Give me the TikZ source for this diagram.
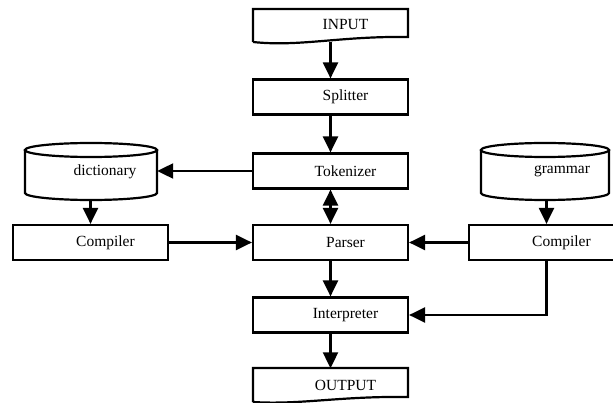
\documentclass[tikz,border=0pt]{standalone}
\usepackage{fontspec}
\setmainfont{Liberation Serif}
\usetikzlibrary{arrows.meta}
\begin{document}
\begin{tikzpicture}[x=1pt,y=-1pt,
  every node/.style={font=\fontsize{15.5}{18}\selectfont},
  box/.style={draw, line width=2.2pt, minimum width=155pt, minimum height=35pt, inner sep=0pt},
  plain/.style={minimum width=155pt, minimum height=33pt, inner sep=0pt},
  holder/.style={minimum width=132pt, minimum height=57pt, inner sep=0pt},
  shp/.style={line width=2.2pt},
  conn/.style={line width=2.2pt, -{Triangle[length=16pt,width=15pt]}},
  dconn/.style={line width=2.2pt, {Triangle[length=16pt,width=15pt]}-{Triangle[length=16pt,width=15pt]}}]
\clip (0,0) rectangle (613,403);
\fill[white] (0,0) rectangle (613,403);
% INPUT document shape
\draw[shp] (253,42) -- (253,9) -- (408,9) -- (408,37)
  .. controls (340,36) and (300,47) .. (253,42);
\node[plain] (input) at (330.5,25) {\hspace*{30pt}INPUT};
% OUTPUT document shape
\draw[shp] (253,402) -- (253,368) -- (408,368) -- (408,397)
  .. controls (340,396) and (300,405) .. (253,402);
\node[plain] (output) at (330.5,385) {\hspace*{30pt}OUTPUT};
% main boxes
\node[box] (splitter) at (330.5,97) {\hspace*{30pt}Splitter};
\node[box] (tokenizer) at (330.5,171) {\hspace*{30pt}Tokenizer};
\node[box] (parser) at (330.5,242.5) {\hspace*{30pt}Parser};
\node[box] (interp) at (330.5,315) {\hspace*{30pt}Interpreter};
\node[box] (compL) at (90.5,242.5) {\hspace*{30pt}Compiler};
\node[box] (compR) at (546.5,242.5) {\hspace*{30pt}Compiler};
% cylinders
\draw[shp] (25,150) -- (25,193) arc[start angle=180,end angle=360,x radius=66,y radius=-7] -- (157,150);
\draw[shp] (91,150) ellipse[x radius=66, y radius=7];
\node[holder] (dict) at (91,171.5) {\hspace*{28pt}dictionary};
\draw[shp] (481,150) -- (481,193) arc[start angle=180,end angle=360,x radius=64,y radius=-7] -- (609,150);
\draw[shp] (545,150) ellipse[x radius=64, y radius=7];
\node[holder, minimum width=128pt] (gram) at (545,171.5) {\hspace*{34pt}grammar};
% connectors
\draw[conn] (input) -- (splitter);
\draw[conn] (splitter) -- (tokenizer);
\draw[dconn] (tokenizer) -- (parser);
\draw[conn] (parser) -- (interp);
\draw[conn] (interp) -- (output);
\draw[conn] (tokenizer.west) -- (tokenizer.west -| dict.east);
\draw[conn] (dict.south -| compL.north) -- (compL.north);
\draw[conn] (gram.south -| compR.north) -- (compR.north);
\draw[conn] (compL.east) -- (parser.west);
\draw[conn] (compR.west) -- (parser.east);
\draw[conn] (compR.south) |- (interp.east);
\end{tikzpicture}
\end{document}
